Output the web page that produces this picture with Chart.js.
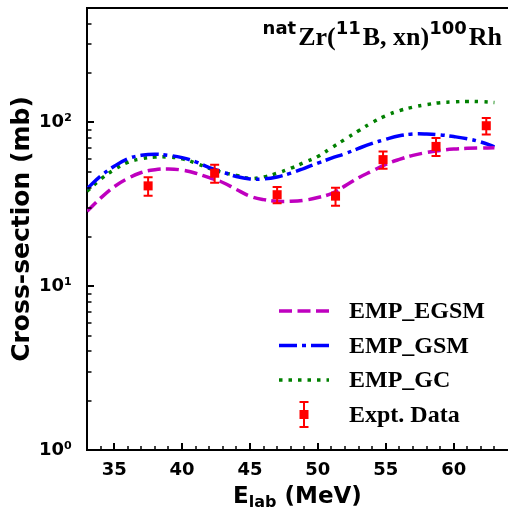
<!DOCTYPE html>
<html>
<head>
<meta charset="utf-8">
<script src="https://cdn.jsdelivr.net/npm/chart.js@4.4.1/dist/chart.umd.min.js"></script>
<style>
  html, body { margin: 0; padding: 0; background: #fff; }
  #wrap { width: 508px; height: 509px; }
</style>
</head>
<body>
<div id="wrap"><canvas id="xsChart" width="508" height="509"></canvas></div>
<script>
// beam energies for model curves (MeV)
const energies = [33, 34, 35, 36, 37, 38, 39, 40, 41, 42, 43, 44, 45, 46, 47, 48,
  49, 50, 51, 52, 53, 54, 55, 56, 57, 58, 59, 60, 61, 62, 63];
const empEgsm = [28.7, 34.5, 40.5, 45.5, 49.5, 51.5, 52, 51.2, 49, 46, 43, 39, 35.5, 33.8, 33, 33,
  33.5, 34.8, 36.8, 41, 46, 50.5, 55.5, 59.5, 63, 65.5, 67.5, 68.8, 69.5, 69.8, 70];
const empGsm = [39.5, 47, 54, 60, 63, 64, 63, 61, 57.5, 53, 49.8, 46.8, 45.2, 45.2, 46.5, 49,
  52.5, 56.5, 60.5, 64.5, 69.5, 74.5, 79, 83, 85, 85, 84, 82, 79.5, 76, 71];
const empGc = [38, 45, 51.5, 57, 60, 61.5, 61.5, 60, 56.5, 52.5, 49.5, 47.5, 45.5, 46.5, 49, 52.5,
  57, 62, 70, 79, 89, 100, 110, 118, 124, 128.5, 132, 133.5, 134.5, 134, 132.5];

// experimental points
const exptE = [37.5, 42.4, 47.0, 51.3, 54.8, 58.7, 62.4];
const exptXs = [41, 49, 36.2, 35.5, 59.3, 71.4, 95.5];
const exptErr = [5.3, 6.2, 4.1, 4.5, 7.2, 9, 11];

// axis ticks
const xTicks = [35, 40, 45, 50, 55, 60];
const yTicks = [1, 10, 100];
const yTickLabels = ["10\u2070", "10\u00B9", "10\u00B2"];

const SANS = "'DejaVu Sans', sans-serif";
const SERIF = "'Liberation Serif', 'DejaVu Serif', serif";

function pts(xs, ys) {
  return xs.map((x, i) => ({ x: x, y: ys[i] }));
}

function noPad(s) {
  s.paddingTop = 0;
  s.paddingBottom = 0;
  s.paddingLeft = 0;
  s.paddingRight = 0;
}

// ticks (pointing in), top frame, error bars, legend, texts
const decorPlugin = {
  id: "decor",
  afterDatasetsDraw(chart) {
    const { ctx, chartArea: a, scales } = chart;
    const x = scales.x, y = scales.y;
    ctx.save();
    ctx.strokeStyle = "#000";

    // top frame line
    ctx.lineWidth = 2;
    ctx.beginPath();
    ctx.moveTo(a.left - 1, a.top);
    ctx.lineTo(a.right + 1, a.top);
    ctx.stroke();

    // x ticks
    for (let v = 34; v <= 63; v++) {
      const major = xTicks.includes(v);
      const px = Math.round(x.getPixelForValue(v));
      ctx.lineWidth = major ? 2 : 1.5;
      ctx.beginPath();
      ctx.moveTo(px, a.bottom);
      ctx.lineTo(px, a.bottom - (major ? 7 : 4));
      ctx.stroke();
    }
    // y ticks
    for (let d = 1; d <= 100; d *= 10) {
      for (let m = 1; m <= 9; m++) {
        const v = d * m;
        if (v > y.max) break;
        const major = m === 1;
        const py = Math.round(y.getPixelForValue(v));
        ctx.lineWidth = major ? 2 : 1.5;
        ctx.beginPath();
        ctx.moveTo(a.left, py);
        ctx.lineTo(a.left + (major ? 7 : 4.5), py);
        ctx.stroke();
      }
    }

    // error bars
    ctx.strokeStyle = "#ff0000";
    ctx.lineWidth = 2;
    exptE.forEach((e, i) => {
      const px = x.getPixelForValue(e);
      const hi = y.getPixelForValue(exptXs[i] + exptErr[i]);
      const lo = y.getPixelForValue(exptXs[i] - exptErr[i]);
      ctx.beginPath();
      ctx.moveTo(px, hi); ctx.lineTo(px, lo);
      ctx.moveTo(px - 4.5, hi); ctx.lineTo(px + 4.5, hi);
      ctx.moveTo(px - 4.5, lo); ctx.lineTo(px + 4.5, lo);
      ctx.stroke();
    });
    ctx.restore();
  },
  afterDraw(chart) {
    const { ctx, chartArea: a } = chart;
    const ds = chart.data.datasets;
    ctx.save();

    // legend
    const rows = [ds[1], ds[2], ds[3], ds[0]];
    ctx.font = "bold 24px " + SERIF;
    ctx.textBaseline = "middle";
    ctx.fillStyle = "#000";
    rows.forEach((d, i) => {
      const cy = 311 + i * 34.5;
      if (d.showLine === false) {
        const cx = 304;
        ctx.strokeStyle = d.borderColor;
        ctx.fillStyle = d.backgroundColor;
        ctx.lineWidth = 2;
        ctx.beginPath();
        ctx.moveTo(cx, cy - 12.5); ctx.lineTo(cx, cy + 12.5);
        ctx.moveTo(cx - 4.5, cy - 12.5); ctx.lineTo(cx + 4.5, cy - 12.5);
        ctx.moveTo(cx - 4.5, cy + 12.5); ctx.lineTo(cx + 4.5, cy + 12.5);
        ctx.stroke();
        ctx.fillRect(cx - 4.5, cy - 4.5, 9, 9);
      } else {
        ctx.strokeStyle = d.borderColor;
        ctx.lineWidth = d.borderWidth;
        ctx.lineCap = "butt";
        ctx.setLineDash(d.borderDash);
        ctx.beginPath();
        ctx.moveTo(279, cy);
        ctx.lineTo(329, cy);
        ctx.stroke();
        ctx.setLineDash([]);
      }
      ctx.fillStyle = "#000";
      ctx.fillText(d.label, 349, cy + 1);
    });

    // reaction label, right aligned, sups followed by a small gap
    const supFont = "bold 18px " + SANS;
    const mainFont = "bold 26px " + SERIF;
    const parts = [
      ["nat", true], ["Zr(", false], ["11", true], ["B, xn)", false], ["100", true], ["Rh", false]
    ];
    ctx.textBaseline = "alphabetic";
    const widths = parts.map(p => {
      ctx.font = p[1] ? supFont : mainFont;
      return ctx.measureText(p[0]).width + (p[1] ? 2 : 0);
    });
    let tx = 502 - widths.reduce((s, v) => s + v, 0);
    parts.forEach((p, i) => {
      ctx.font = p[1] ? supFont : mainFont;
      ctx.fillText(p[0], tx, p[1] ? 34 : 45);
      tx += widths[i];
    });

    // x axis title with subscript
    const big = "bold 23px " + SANS;
    const small = "bold 16px " + SANS;
    const xt = [["E", big, 503], ["lab", small, 507], [" (MeV)", big, 503]];
    let w = 0;
    xt.forEach(p => { ctx.font = p[1]; w += ctx.measureText(p[0]).width; });
    let sx = (a.left + a.right) / 2 - w / 2;
    xt.forEach(p => {
      ctx.font = p[1];
      ctx.fillText(p[0], sx, p[2]);
      sx += ctx.measureText(p[0]).width;
    });
    ctx.restore();
  }
};

const ctx = document.getElementById("xsChart").getContext("2d");
new Chart(ctx, {
  type: "line",
  data: {
    datasets: [
      {
        label: "Expt. Data",
        data: pts(exptE, exptXs),
        showLine: false,
        borderColor: "#ff0000",
        backgroundColor: "#ff0000",
        pointStyle: "rect",
        pointRadius: 6.4,
        pointBorderWidth: 0,
        order: 0
      },
      {
        label: "EMP_EGSM",
        data: pts(energies, empEgsm),
        borderColor: "#bf00bf",
        borderWidth: 3.5,
        borderDash: [13, 5.5],
        pointRadius: 0,
        tension: 0.4,
        fill: false,
        order: 1
      },
      {
        label: "EMP_GSM",
        data: pts(energies, empGsm),
        borderColor: "#0000ff",
        borderWidth: 3.5,
        borderDash: [18, 5, 4, 5],
        pointRadius: 0,
        tension: 0.4,
        fill: false,
        order: 1
      },
      {
        label: "EMP_GC",
        data: pts(energies, empGc),
        borderColor: "#008000",
        borderWidth: 3.5,
        borderDash: [3.5, 6],
        pointRadius: 0,
        tension: 0.4,
        fill: false,
        order: 1
      }
    ]
  },
  options: {
    responsive: false,
    animation: false,
    devicePixelRatio: 1,
    layout: { autoPadding: false, padding: { top: 8, right: 0, left: 0, bottom: 0 } },
    plugins: {
      legend: { display: false },
      tooltip: { enabled: false }
    },
    scales: {
      x: {
        type: "linear",
        min: 33,
        max: 64,
        afterFit: (s) => { s.height = 59; noPad(s); },
        afterBuildTicks: (s) => { s.ticks = xTicks.map(v => ({ value: v })); },
        ticks: {
          color: "#000",
          font: { family: SANS, size: 18, weight: "bold" },
          padding: 10,
          maxRotation: 0,
          autoSkip: false
        },
        grid: { display: false, drawTicks: false },
        border: { display: true, color: "#000", width: 2 }
      },
      y: {
        type: "logarithmic",
        min: 1,
        max: 500,
        afterFit: (s) => { s.width = 87; noPad(s); },
        afterBuildTicks: (s) => { s.ticks = yTicks.map(v => ({ value: v, major: true })); },
        ticks: {
          color: "#000",
          font: { family: SANS, size: 18, weight: "bold" },
          padding: 15,
          autoSkip: false,
          callback: (v) => yTickLabels[yTicks.indexOf(v)] || ""
        },
        title: {
          display: true,
          text: "Cross-section (mb)",
          color: "#000",
          font: { family: SANS, size: 25, weight: "bold" },
          padding: { top: 7, bottom: 0 }
        },
        grid: { display: false, drawTicks: false },
        border: { display: true, color: "#000", width: 2 }
      }
    }
  },
  plugins: [decorPlugin]
});
</script>
</body>
</html>
